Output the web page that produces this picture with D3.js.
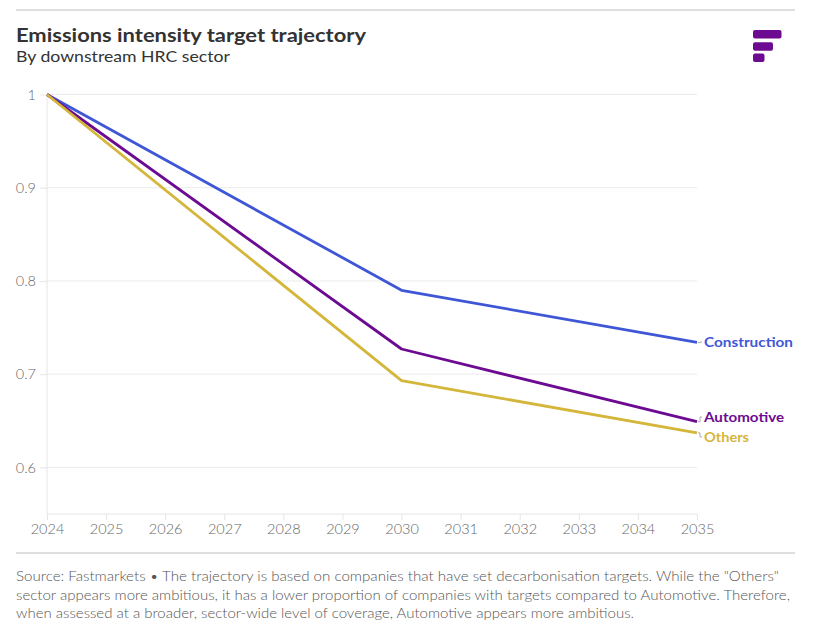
<!DOCTYPE html>
<html>
<head>
<meta charset="utf-8">
<script src="https://cdn.jsdelivr.net/npm/d3@7/dist/d3.min.js"></script>
<style>
  body { margin: 0; background: #fff; }
  svg { display: block; font-family: Lato, "Noto Sans", sans-serif; }
</style>
</head>
<body>
<svg id="chart" width="818" height="627"></svg>
<script>
const years = [2024, 2030, 2035];
const construction = [1.0, 0.790, 0.734];
const automotive = [1.0, 0.727, 0.649];
const others = [1.0, 0.693, 0.637];
const seriesNames = ["Construction", "Automotive", "Others"];
const seriesColors = ["#3f57d6", "#6c0b91", "#d4b63a"];
const xTickYears = d3.range(2024, 2036);
const yTickValues = [0.6, 0.7, 0.8, 0.9, 1];

const svg = d3.select("#chart");
const margin = { left: 47, right: 697, top: 94.5, bottom: 514 };

const x = d3.scaleLinear().domain([2024, 2035]).range([margin.left, margin.right]);
const y = d3.scaleLinear().domain([0.55, 1]).range([margin.bottom, margin.top]);

function fitText(sel, len) {
  sel.attr("textLength", len).attr("lengthAdjust", "spacingAndGlyphs");
}

// top rule
svg.append("line").attr("x1", 16).attr("x2", 795).attr("y1", 10).attr("y2", 10)
  .attr("stroke", "#dedede").attr("stroke-width", 2);

// title
svg.append("text").attr("x", 16).attr("y", 42).text("Emissions intensity target trajectory")
  .attr("font-size", 19.5).attr("font-weight", 700).attr("fill", "#333").call(fitText, 350);
svg.append("text").attr("x", 16).attr("y", 62).text("By downstream HRC sector")
  .attr("font-size", 16).attr("fill", "#333").call(fitText, 214);

// logo
const logo = svg.append("g").attr("fill", "#6c0b91");
[[28.5, 30], [20, 42.3], [11.5, 53.5]].forEach(([w, yy]) => {
  logo.append("rect").attr("x", 753).attr("y", yy).attr("width", w).attr("height", 8.5).attr("rx", 2);
});

// grid
svg.append("g").selectAll("line").data(yTickValues).join("line")
  .attr("x1", margin.left).attr("x2", margin.right)
  .attr("y1", d => y(d)).attr("y2", d => y(d))
  .attr("stroke", "#ebebeb").attr("stroke-width", 1);

// y axis
const yAxis = d3.axisLeft(y).tickValues(yTickValues).tickFormat(d3.format("")).tickSize(7).tickPadding(4);
const yg = svg.append("g").attr("transform", `translate(${margin.left},0)`).call(yAxis);
yg.select(".domain").attr("stroke", "#e6e6e6").attr("d", `M0,${margin.top}V${margin.bottom}`);
yg.selectAll(".tick line").attr("stroke", "#e6e6e6");
yg.selectAll(".tick text").attr("fill", "#666").attr("font-size", 14.5).attr("font-weight", 300).attr("font-family", "Lato, sans-serif");

// x axis
const xAxis = d3.axisBottom(x).tickValues(xTickYears).tickFormat(d3.format("d")).tickSize(6).tickPadding(4);
const xg = svg.append("g").attr("transform", `translate(0,${margin.bottom})`).call(xAxis);
xg.select(".domain").attr("stroke", "#e6e6e6").attr("d", `M${margin.left},0H${margin.right}`);
xg.selectAll(".tick line").attr("stroke", "#e6e6e6");
xg.selectAll(".tick text").attr("fill", "#666").attr("font-size", 14.5).attr("font-weight", 300).attr("font-family", "Lato, sans-serif");

// lines
const seriesData = [construction, automotive, others];
const line = d3.line().x((d, i) => x(years[i])).y(d => y(d));
seriesData.forEach((s, i) => {
  svg.append("path").attr("d", line(s))
    .attr("fill", "none").attr("stroke", seriesColors[i]).attr("stroke-width", 2.8)
    .attr("stroke-linejoin", "round");
});

// labels with small connectors
const labelY = [342, 417, 437];
const labelW = [89, 80, 45];
seriesNames.forEach((name, i) => {
  const last = seriesData[i][seriesData[i].length - 1];
  const ly = y(last);
  const ty = labelY[i];
  svg.append("path")
    .attr("d", `M${margin.right + 1},${ly}H${margin.right + 3}V${ty}H${margin.right + 5}`)
    .attr("fill", "none").attr("stroke", "#aaa").attr("stroke-width", 1);
  svg.append("text").attr("x", 704).attr("y", ty).attr("dy", "0.35em")
    .text(name).attr("font-size", 14).attr("font-weight", 700).attr("fill", seriesColors[i])
    .call(fitText, labelW[i]);
});

// bottom rule
svg.append("line").attr("x1", 16).attr("x2", 795).attr("y1", 553).attr("y2", 553)
  .attr("stroke", "#dedede").attr("stroke-width", 2);

// footer
const footer = [
  "Source: Fastmarkets \u2022 The trajectory is based on companies that have set decarbonisation targets. While the \"Others\"",
  "sector appears more ambitious, it has a lower proportion of companies with targets compared to Automotive. Therefore,",
  "when assessed at a broader, sector-wide level of coverage, Automotive appears more ambitious."
];
const footerW = [763, 774, 618];
svg.append("g").selectAll("text").data(footer).join("text")
  .attr("x", 16).attr("y", (d, i) => 581 + i * 18.5)
  .text(d => d).attr("font-size", 13.5).attr("font-weight", 300).attr("fill", "#555")
  .each(function(d, i) { d3.select(this).call(fitText, footerW[i]); });
</script>
</body>
</html>
